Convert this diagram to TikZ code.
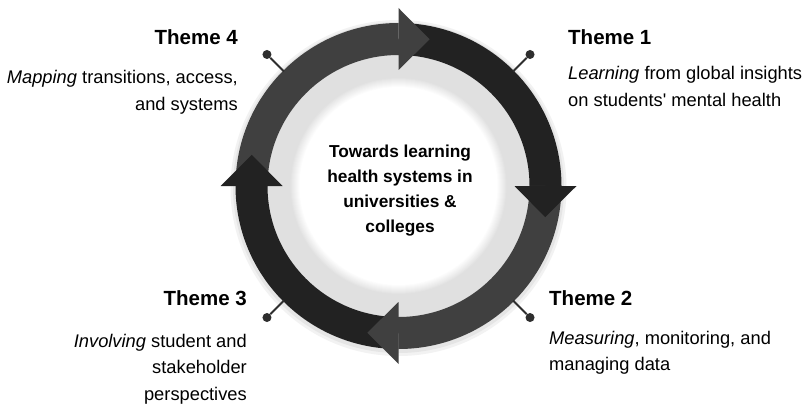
\documentclass[tikz,border=0pt]{standalone}
\usepackage{fontspec}
\setmainfont{Liberation Sans}[Ligatures=TeXOff]
\newlength{\du}
\setlength{\du}{1\unitlength}
\definecolor{bandmid}{rgb}{0.250000, 0.250000, 0.250000}
\definecolor{banddark}{rgb}{0.135000, 0.135000, 0.135000}
\definecolor{ringlight}{rgb}{0.880000, 0.880000, 0.880000}
\definecolor{pincolor}{rgb}{0.180000, 0.180000, 0.180000}
\tikzset{
  band/.style={line width=32\du},
  pinline/.style={draw=pincolor, line width=2\du},
  pindot/.style={circle, fill=pincolor, inner sep=0pt, minimum size=9\du},
  headtext/.style={inner sep=0pt, font=\bfseries\fontsize{20.5}{24}\selectfont},
  bodytext/.style={inner sep=0pt, font=\fontsize{18.3}{26.5}\selectfont},
  coretext/.style={inner sep=0pt, font=\bfseries\fontsize{17.3}{25}\selectfont},
}

\begin{document}
\begin{tikzpicture}
\pgftransformxscale{1.000000}
\pgftransformyscale{-1.000000}
\useasboundingbox (0\du,0\du) rectangle (806\du,404\du);
\fill[white] (0\du,0\du) rectangle (806\du,404\du);

\begin{scope}[shift={(398.5\du,186\du)}]
% soft shadow under the ring
\draw[black!5, line width=42\du] (0\du,2\du) circle (147\du);
\draw[black!10, line width=37\du] (0\du,1.5\du) circle (147\du);
% light disc with faded white middle
\fill[ringlight] (0\du,0\du) circle (131\du);
\foreach \i in {0,...,10}{
  \pgfmathsetmacro{\rad}{109-\i}
  \pgfmathtruncatemacro{\pct}{100-\i*10}
  \fill[ringlight!\pct!white] (0\du,0\du) circle (\rad\du);
}
\fill[white] (0\du,0\du) circle (99\du);
% ring quarters, clockwise from the left
\draw[band, bandmid] (180:147\du) arc (180:270:147\du);
\draw[band, banddark] (270:147\du) arc (270:360:147\du);
\draw[band, bandmid] (0:147\du) arc (0:90:147\du);
\draw[band, banddark] (90:147\du) arc (90:180:147\du);
% arrow heads
\foreach \a/\c in {270/bandmid, 0/banddark, 90/bandmid, 180/banddark}{
  \fill[\c] (\a:116\du) -- (\a:178\du) -- (\a+12:150\du) -- cycle;
}
% pins
\coordinate (pin1root) at (315:162\du);
\coordinate (pin2root) at (45:162\du);
\coordinate (pin3root) at (135:162\du);
\coordinate (pin4root) at (225:162\du);
\node[pindot] (pin1) at (315:186\du) {};
\node[pindot] (pin2) at (45:186\du) {};
\node[pindot] (pin3) at (135:186\du) {};
\node[pindot] (pin4) at (225:186\du) {};
\draw[pinline] (pin1root) -- (pin1);
\draw[pinline] (pin2root) -- (pin2);
\draw[pinline] (pin3root) -- (pin3);
\draw[pinline] (pin4root) -- (pin4);
\end{scope}

\node[coretext, anchor=base] (core) at (400\du,157\du){\begin{tabular}[t]{@{}c@{}}Towards learning\\health systems in\\universities \&\\colleges\end{tabular}};

% theme 1
\node[headtext, anchor=base west] (t1head) at (568\du,45\du){Theme 1};
\node[bodytext, anchor=base west] (t1body) at (568\du,80\du){\begin{tabular}[t]{@{}l@{}}\textit{Learning} from global insights\\on students' mental health\end{tabular}};
% theme 2
\node[headtext, anchor=base west] (t2head) at (549\du,305\du){Theme 2};
\node[bodytext, anchor=base west] (t2body) at (549\du,344\du){\begin{tabular}[t]{@{}l@{}}\textit{Measuring}, monitoring, and\\managing data\end{tabular}};
% theme 3
\node[headtext, anchor=base east] (t3head) at (247\du,305\du){Theme 3};
\node[bodytext, anchor=base east] (t3body) at (247\du,347\du){\begin{tabular}[t]{@{}r@{}}\textit{Involving} student and\\stakeholder\\perspectives\end{tabular}};
% theme 4
\node[headtext, anchor=base east] (t4head) at (238\du,45\du){Theme 4};
\node[bodytext, anchor=base east] (t4body) at (238\du,84\du){\begin{tabular}[t]{@{}r@{}}\textit{Mapping} transitions, access,\\and systems\end{tabular}};
\end{tikzpicture}
\end{document}
